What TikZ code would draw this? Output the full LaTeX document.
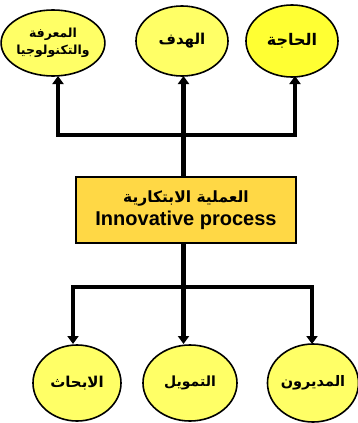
\documentclass[tikz,border=0pt]{standalone}
\usepackage{fontspec}
\setmainfont{Liberation Sans}
\newfontfamily\arabicfont[Script=Arabic]{DejaVu Sans}
\TeXXeTstate=1
\usetikzlibrary{shapes.geometric,arrows.meta}
\definecolor{ellfill}{HTML}{FFFF66}
\definecolor{ellfillB}{HTML}{FFFF33}
\definecolor{boxfill}{HTML}{FFD845}
\tikzset{
  ell/.style={ellipse,draw=black,line width=1.6pt,fill=ellfill,inner sep=0pt,
    minimum width=88pt,minimum height=68pt,font=\arabicfont\bfseries\fontsize{15}{17}\selectfont,align=center},
  procbox/.style={rectangle,draw=black,line width=1.6pt,fill=boxfill,minimum width=220pt,minimum height=66pt,
    inner sep=0pt,align=center},
  conn/.style={line width=4.5pt,line join=miter,draw=black},
  arr/.style={conn,-{Triangle[length=8pt,width=11pt]}},
}
\begin{document}
\begin{tikzpicture}[x=1pt,y=-1pt]
\useasboundingbox (0,0) rectangle (357,423);
% top ellipses
\node[ell,fill=ellfillB,minimum width=92pt,minimum height=72pt,font=\arabicfont\bfseries\fontsize{16}{18}\selectfont] (need) at (292,41) {\beginR الحاجة\endR};
\node[ell,minimum width=92pt,minimum height=70pt] (goal) at (182,41) {\beginR الهدف\endR};
\node[ell,minimum width=88pt,minimum height=66pt,font=\arabicfont\bfseries\fontsize{12.5}{17}\selectfont] (know) at (53,43) {\beginR المعرفة\endR\\\beginR والتكنولوجيا\endR};
% central box
\node[procbox] (proc) at (186,210) {{\arabicfont\bfseries\fontsize{15.5}{17}\selectfont\beginR العملية الابتكارية\endR}\\[4pt]{\bfseries\fontsize{20}{22}\selectfont Innovative process}};
% bottom ellipses
\node[ell,minimum width=88pt,minimum height=76pt,font=\arabicfont\bfseries\fontsize{15}{17}\selectfont] (res) at (77,383) {\beginR الابحاث\endR};
\node[ell,minimum width=94pt,minimum height=76pt,font=\arabicfont\bfseries\fontsize{14}{17}\selectfont] (fund) at (190,383) {\beginR التمويل\endR};
\node[ell,minimum width=86pt,minimum height=78pt,font=\arabicfont\bfseries\fontsize{14.5}{17}\selectfont] (mgr) at (313,383) {\beginR المديرون\endR};
% junctions
\coordinate (jt) at (183.5,135);
\coordinate (jb) at (183.5,287);
\coordinate (tk) at (58,76);
\coordinate (tg) at (183.5,76);
\coordinate (tn) at (295,76);
\coordinate (br) at (73,344);
\coordinate (bf) at (183.5,344);
\coordinate (bm) at (312,344);
% connectors
\draw[conn] (proc.north -| jt) -- (jt);
\draw[arr] (jt) -| (tk);
\draw[arr] (jt) -- (tg);
\draw[arr] (jt) -| (tn);
\draw[conn] (proc.south -| jb) -- (jb);
\draw[arr] (jb) -| (br);
\draw[arr] (jb) -- (bf);
\draw[arr] (jb) -| (bm);
\end{tikzpicture}
\end{document}
